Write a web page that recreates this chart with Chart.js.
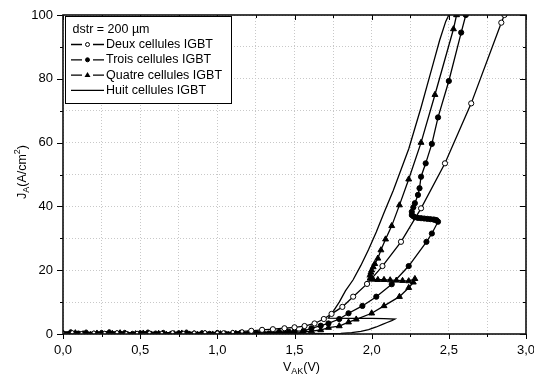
<!DOCTYPE html>
<html>
<head>
<meta charset="utf-8">
<script src="https://cdn.jsdelivr.net/npm/chart.js@4.4.0/dist/chart.umd.min.js"></script>
<style>
html, body { margin: 0; padding: 0; background: #fff; }
#wrap { width: 534px; height: 378px; }
</style>
</head>
<body>
<div id="wrap"><canvas id="chart" width="534" height="378"></canvas></div>
<script>
// --- DONNEES ---
const legendTitle = 'dstr = 200 µm';
const seriesNames = ['Deux cellules IGBT', 'Trois cellules IGBT', 'Quatre cellules IGBT', 'Huit cellules IGBT'];

const xTicks = [0, 0.5, 1.0, 1.5, 2.0, 2.5, 3.0];
const yTicks = [0, 20, 40, 60, 80, 100];

// Deux cellules (cercles vides)
const deuxV = [0, 0.06, 0.12, 0.2, 0.27, 0.35, 0.41, 0.48, 0.56, 0.64, 0.71, 0.78, 0.85, 0.92, 1.0, 1.04, 1.1, 1.16, 1.22, 1.29, 1.36, 1.435, 1.5, 1.565, 1.63, 1.69, 1.74, 1.81, 1.88, 1.97, 2.07, 2.19, 2.32, 2.475, 2.645, 2.84, 2.86];
const deuxJ = [0.3, 0.5, 0.2, 0.4, 0.3, 0.5, 0.2, 0.3, 0.4, 0.3, 0.5, 0.3, 0.4, 0.5, 0.4, 0.5, 0.6, 0.8, 1.0, 1.3, 1.5, 1.8, 2.1, 2.5, 3.3, 4.7, 6.3, 8.5, 11.7, 15.7, 21.3, 28.9, 39.4, 53.5, 72.3, 97.6, 100];

// Trois cellules (cercles pleins) : branche basse, retournement, puis montee
const troisV = [0, 0.05, 0.1, 0.15, 0.2, 0.25, 0.3, 0.35, 0.4, 0.45, 0.5, 0.55, 0.6, 0.65, 0.7, 0.75, 0.8, 0.85, 0.9, 0.95, 1.0, 1.05, 1.1, 1.15, 1.2, 1.25, 1.3, 1.35, 1.4, 1.45, 1.5, 1.56, 1.61, 1.67, 1.72, 1.79, 1.85, 1.94, 2.03, 2.13, 2.24, 2.355, 2.39, 2.43,
  2.42, 2.41, 2.40, 2.38, 2.36, 2.34, 2.32, 2.30, 2.28, 2.27, 2.26, 2.26, 2.27, 2.28, 2.30, 2.31, 2.32, 2.35, 2.39, 2.43, 2.50, 2.58, 2.61];
const troisJ = [0.5, 0.8, 0.4, 0.7, 0.3, 0.6, 0.8, 0.4, 0.6, 0.3, 0.5, 0.7, 0.4, 0.6, 0.3, 0.5, 0.7, 0.4, 0.5, 0.3, 0.6, 0.4, 0.5, 0.6, 0.4, 0.6, 0.5, 0.7, 0.6, 0.8, 0.9, 1.0, 1.8, 2.6, 3.3, 4.7, 6.5, 8.8, 11.7, 15.6, 21.3, 28.9, 31.5, 35.2,
  35.7, 35.8, 35.9, 36.0, 36.1, 36.2, 36.3, 36.4, 36.6, 36.9, 37.3, 38.3, 39.7, 41.0, 43.6, 45.7, 49.3, 53.5, 59.6, 67.9, 79.3, 94.5, 100];

// Quatre cellules (triangles)
const quatreV = [0, 0.04, 0.08, 0.13, 0.18, 0.22, 0.27, 0.32, 0.37, 0.42, 0.47, 0.52, 0.57, 0.62, 0.67, 0.72, 0.77, 0.82, 0.87, 0.92, 0.97, 1.02, 1.07, 1.12, 1.17, 1.22, 1.27, 1.33, 1.4, 1.47, 1.55, 1.61, 1.67, 1.72, 1.79, 1.85, 1.9, 2.0, 2.08, 2.18, 2.24, 2.27,
  2.28, 2.24, 2.2, 2.16, 2.12, 2.08, 2.04, 2.01, 1.99, 1.99, 1.995, 2.0, 2.01, 2.02, 2.04, 2.06, 2.09, 2.13, 2.18, 2.24, 2.32, 2.41, 2.53, 2.55];
const quatreJ = [0.7, 0.4, 0.8, 0.5, 0.3, 0.7, 0.4, 0.6, 0.8, 0.3, 0.5, 0.7, 0.4, 0.6, 0.3, 0.5, 0.7, 0.4, 0.3, 0.6, 0.4, 0.5, 0.3, 0.6, 0.4, 0.5, 0.4, 0.5, 0.4, 0.5, 0.6, 0.9, 1.25, 2.0, 2.5, 3.7, 4.6, 6.5, 8.8, 11.7, 14.5, 16.2,
  17.3, 16.6, 16.7, 16.8, 16.9, 17.0, 17.0, 17.1, 17.4, 18.5, 19.3, 20.0, 21.0, 22.0, 23.7, 26.3, 29.7, 33.9, 40.4, 48.5, 60, 75, 95.6, 100];

// Huit cellules (trait plein) : boucle vers 2,15 V puis montee
const huitV = [0, 0.1, 0.2, 0.3, 0.4, 0.5, 0.6, 0.7, 0.8, 0.9, 1.0, 1.1, 1.2, 1.3, 1.4, 1.5, 1.6, 1.7, 1.8, 1.87, 1.93, 1.98, 2.03, 2.07, 2.1, 2.13, 2.15, 2.08, 2.0, 1.85, 1.72,
  1.75, 1.79, 1.83, 1.88, 1.93, 1.98, 2.03, 2.08, 2.14, 2.19, 2.24, 2.28, 2.32, 2.36, 2.40, 2.44, 2.48, 2.50];
const huitJ = [0.4, 0.2, 0.5, 0.3, 0.2, 0.4, 0.3, 0.2, 0.4, 0.2, 0.3, 0.2, 0.3, 0.2, 0.2, 0.2, 0.2, 0.1, 0.2, 0.4, 0.8, 1.4, 2.2, 3.0, 3.6, 4.2, 4.7, 4.8, 4.9, 4.9, 5.0,
  7, 10, 13.5, 17, 21.5, 26.5, 32, 38, 45, 51.5, 58, 64.5, 71, 78, 85, 92, 98, 100];

// --- CONSTRUCTION ---
function points(xs, ys) { return xs.map((x, i) => ({ x: x, y: ys[i] })); }

const FONT = "'Liberation Sans', Arial, sans-serif";
Chart.defaults.font.family = FONT;
Chart.defaults.color = '#000';

const styles = [
  { pointStyle: 'circle', fill: '#fff', radius: 2.6 },
  { pointStyle: 'circle', fill: '#000', radius: 2.6 },
  { pointStyle: 'triangle', fill: '#000', radius: 3.4 },
  { pointStyle: 'circle', fill: '#000', radius: 0 }
];
const allData = [points(deuxV, deuxJ), points(troisV, troisJ), points(quatreV, quatreJ), points(huitV, huitJ)];

const datasets = allData.map((d, i) => ({
  label: seriesNames[i],
  data: d,
  showLine: true,
  borderColor: '#000',
  borderWidth: 1.3,
  tension: 0,
  pointStyle: styles[i].pointStyle,
  // petits marqueurs pres de zero (bande bruitee)
  pointRadius: ctx => (ctx.raw && ctx.raw.y < 1 && ctx.raw.x < 1.4) ? Math.min(styles[i].radius, 1.8) : styles[i].radius,
  pointBackgroundColor: styles[i].fill,
  pointBorderColor: '#000',
  pointBorderWidth: 1
}));

// cadre + graduations (majeures et mineures)
const framePlugin = {
  id: 'frame',
  afterDatasetsDraw(chart) {
    const { ctx, chartArea: a, scales: { x, y } } = chart;
    ctx.save();
    ctx.strokeStyle = '#000';
    ctx.lineWidth = 1;
    ctx.beginPath();
    for (let v = 0; v <= 3.0001; v += 0.25) {
      const px = Math.round(x.getPixelForValue(v)) + 0.5;
      const major = Math.abs(v / 0.5 - Math.round(v / 0.5)) < 1e-6;
      const len = major ? 5 : 3;
      ctx.moveTo(px, a.bottom); ctx.lineTo(px, a.bottom + len);
      ctx.moveTo(px, a.top); ctx.lineTo(px, a.top + len);
    }
    for (let v = 0; v <= 100; v += 10) {
      const py = Math.round(y.getPixelForValue(v)) + 0.5;
      const len = v % 20 === 0 ? 6 : 3;
      ctx.moveTo(a.left - len, py); ctx.lineTo(a.left, py);
      ctx.moveTo(a.right - len, py); ctx.lineTo(a.right, py);
    }
    ctx.stroke();
    ctx.lineWidth = 1.6;
    ctx.strokeStyle = '#111';
    ctx.strokeRect(a.left, a.top, a.right - a.left, a.bottom - a.top);
    ctx.restore();
  },
  afterDraw(chart) {
    const { ctx, chartArea: a } = chart;
    ctx.save();
    ctx.fillStyle = '#000';

    // titre axe X : V_AK(V)
    const big = '12.5px ' + FONT, small = '9px ' + FONT;
    ctx.font = big; const wV = ctx.measureText('V').width; const wP = ctx.measureText('(V)').width;
    ctx.font = small; const wAK = ctx.measureText('AK').width;
    let sx = (a.left + a.right) / 2 + 7 - (wV + wAK + wP) / 2;
    const by = 371;
    ctx.textBaseline = 'alphabetic';
    ctx.font = big; ctx.fillText('V', sx, by); sx += wV;
    ctx.font = small; ctx.fillText('AK', sx, by + 3); sx += wAK;
    ctx.font = big; ctx.fillText('(V)', sx, by);

    // titre axe Y : J_A(A/cm^2)
    ctx.translate(26, 172);
    ctx.rotate(-Math.PI / 2);
    ctx.font = big; const wJ = ctx.measureText('J').width; const wU = ctx.measureText('(A/cm').width; const wC = ctx.measureText(')').width;
    ctx.font = small; const wA = ctx.measureText('A').width; const w2 = ctx.measureText('2').width;
    let tx = -(wJ + wA + wU + w2 + wC) / 2;
    ctx.font = big; ctx.fillText('J', tx, 0); tx += wJ;
    ctx.font = small; ctx.fillText('A', tx, 3); tx += wA;
    ctx.font = big; ctx.fillText('(A/cm', tx, 0); tx += wU;
    ctx.font = small; ctx.fillText('2', tx, -6); tx += w2;
    ctx.font = big; ctx.fillText(')', tx, 0);
    ctx.setTransform(1, 0, 0, 1, 0, 0);

    // legende encadree
    const bx = 65, bty = 16, bw = 166, bh = 87;
    ctx.fillStyle = '#fff';
    ctx.fillRect(bx, bty, bw, bh);
    ctx.strokeStyle = '#000';
    ctx.lineWidth = 1;
    ctx.strokeRect(bx + 0.5, bty + 0.5, bw, bh);
    ctx.fillStyle = '#000';
    ctx.font = '12.5px ' + FONT;
    ctx.textBaseline = 'middle';
    ctx.fillText(legendTitle, 72.5, 29.5);
    seriesNames.forEach((name, i) => {
      const ly = 44.5 + i * 15.3;
      ctx.fillStyle = '#000';
      ctx.fillText(name, 106, ly);
      ctx.lineWidth = 1.3;
      ctx.beginPath();
      if (i < 3) {
        ctx.moveTo(71, ly); ctx.lineTo(82, ly);
        ctx.moveTo(93, ly); ctx.lineTo(104, ly);
      } else {
        ctx.moveTo(71, ly); ctx.lineTo(104, ly);
      }
      ctx.stroke();
      ctx.lineWidth = 1;
      ctx.beginPath();
      if (i === 2) {
        ctx.moveTo(87.5, ly - 3); ctx.lineTo(90.5, ly + 2); ctx.lineTo(84.5, ly + 2); ctx.closePath();
        ctx.fill();
      } else if (i < 2) {
        ctx.arc(87.5, ly, 2, 0, Math.PI * 2);
        ctx.fillStyle = styles[i].fill; ctx.fill();
        ctx.stroke();
      }
    });
    ctx.restore();
  }
};

new Chart(document.getElementById('chart'), {
  type: 'scatter',
  data: { datasets },
  options: {
    responsive: false,
    devicePixelRatio: 1,
    animation: false,
    layout: { padding: { top: 15, right: 8, left: 0, bottom: 0 } },
    plugins: { legend: { display: false }, tooltip: { enabled: false } },
    scales: {
      x: {
        type: 'linear', min: 0, max: 3,
        afterFit(s) { s.height = 44; s.paddingLeft = 0; s.paddingRight = 0; },
        afterBuildTicks(s) { s.ticks = []; for (let v = 0; v <= 12; v++) s.ticks.push({ value: v * 0.25 }); },
        ticks: {
          padding: 9, font: { size: 13 }, maxRotation: 0, autoSkip: false,
          callback: v => xTicks.some(t => Math.abs(t - v) < 1e-6) ? v.toFixed(1).replace('.', ',') : ''
        },
        grid: { color: '#c8c8c8', lineWidth: 1, drawTicks: false },
        border: { display: false, dash: [1, 2] }
      },
      y: {
        type: 'linear', min: 0, max: 100,
        afterFit(s) { s.width = 63; s.paddingTop = 0; s.paddingBottom = 0; },
        afterBuildTicks(s) { s.ticks = []; for (let v = 0; v <= 100; v += 10) s.ticks.push({ value: v }); },
        ticks: {
          padding: 10, font: { size: 13 }, autoSkip: false,
          callback: v => yTicks.includes(v) ? String(v) : ''
        },
        grid: { color: '#c8c8c8', lineWidth: 1, drawTicks: false },
        border: { display: false, dash: [1, 2] }
      }
    }
  },
  plugins: [framePlugin]
});
</script>
</body>
</html>
